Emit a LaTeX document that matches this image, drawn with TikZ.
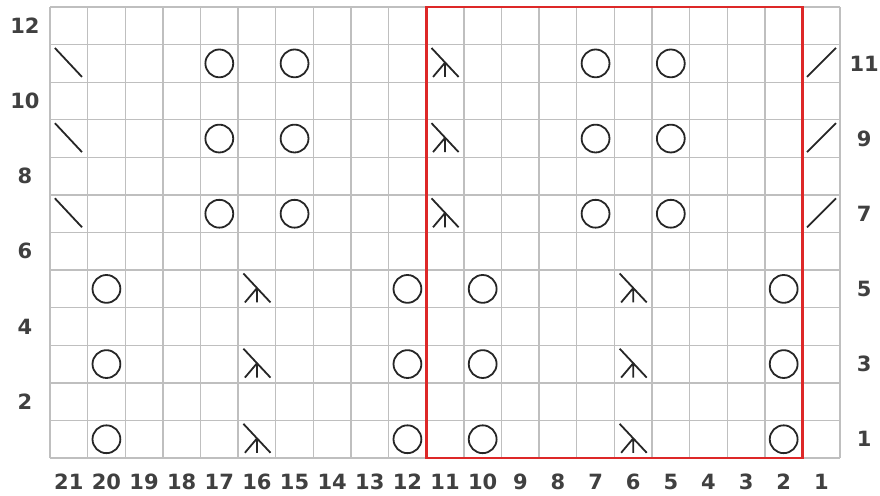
\documentclass[tikz,border=0pt]{standalone}
\usepackage{fontspec}
\setmainfont{DejaVu Sans}
\usetikzlibrary{positioning}
\definecolor{chartred}{RGB}{221,40,40}

\begin{document}
\begin{tikzpicture}[x=37.62pt, y=37.58pt,
    gridline/.style={draw=gray!50, line width=1.3pt},
    stitch/.style={draw=black!85, line width=1.8pt},
    redbox/.style={draw=chartred, line width=2.8pt},
    lbl/.style={font=\fontsize{21}{25}\selectfont\bfseries, text=black!75, inner sep=0pt}]
\useasboundingbox (-1.329,-0.985) rectangle (22.06,12.187);
% grid and highlighted repeat
\draw[gridline] (0,0) grid[step={(1,1)}] (21,12);
\draw[redbox] (10,0) rectangle (20,12);
% rows 7, 9, 11
\foreach \r in {7,9,11} {
  \foreach \c in {17,15,7,5}
    \draw[stitch] ({21.5-\c},{\r-0.5}) circle [radius=0.37];
  \draw[stitch] ({21.5-21-0.37},{\r-0.5+0.41}) -- ++(0.72,-0.77);
  \draw[stitch] ({21.5-1-0.38},{\r-0.5-0.36}) -- ++(0.77,0.77);
  \draw[stitch] ({21.5-11-0.36},{\r-0.5+0.41}) -- ++(0.72,-0.77)
    ({21.5-11},{\r-0.5+0.02}) -- ++(-0.32,-0.38)
    ({21.5-11},{\r-0.5+0.02}) -- ++(0,-0.38);
}
% rows 1, 3, 5
\foreach \r in {1,3,5} {
  \foreach \c in {20,12,10,2}
    \draw[stitch] ({21.5-\c},{\r-0.5}) circle [radius=0.37];
  \foreach \c in {16,6}
    \draw[stitch] ({21.5-\c-0.36},{\r-0.5+0.41}) -- ++(0.72,-0.77)
      ({21.5-\c},{\r-0.5+0.02}) -- ++(-0.32,-0.38)
      ({21.5-\c},{\r-0.5+0.02}) -- ++(0,-0.38);
}
% numbering
\foreach \c in {1,...,21}
  \node[lbl] (col\c) at ({21.5-\c},-0.625) {\c};
\foreach \r in {2,4,...,12}
  \node[lbl] (row\r) at (-0.665,{\r-0.5}) {\r};
\foreach \r in {1,3,...,11}
  \node[lbl] (row\r) at (21.64,{\r-0.5}) {\r};
\end{tikzpicture}
\end{document}
